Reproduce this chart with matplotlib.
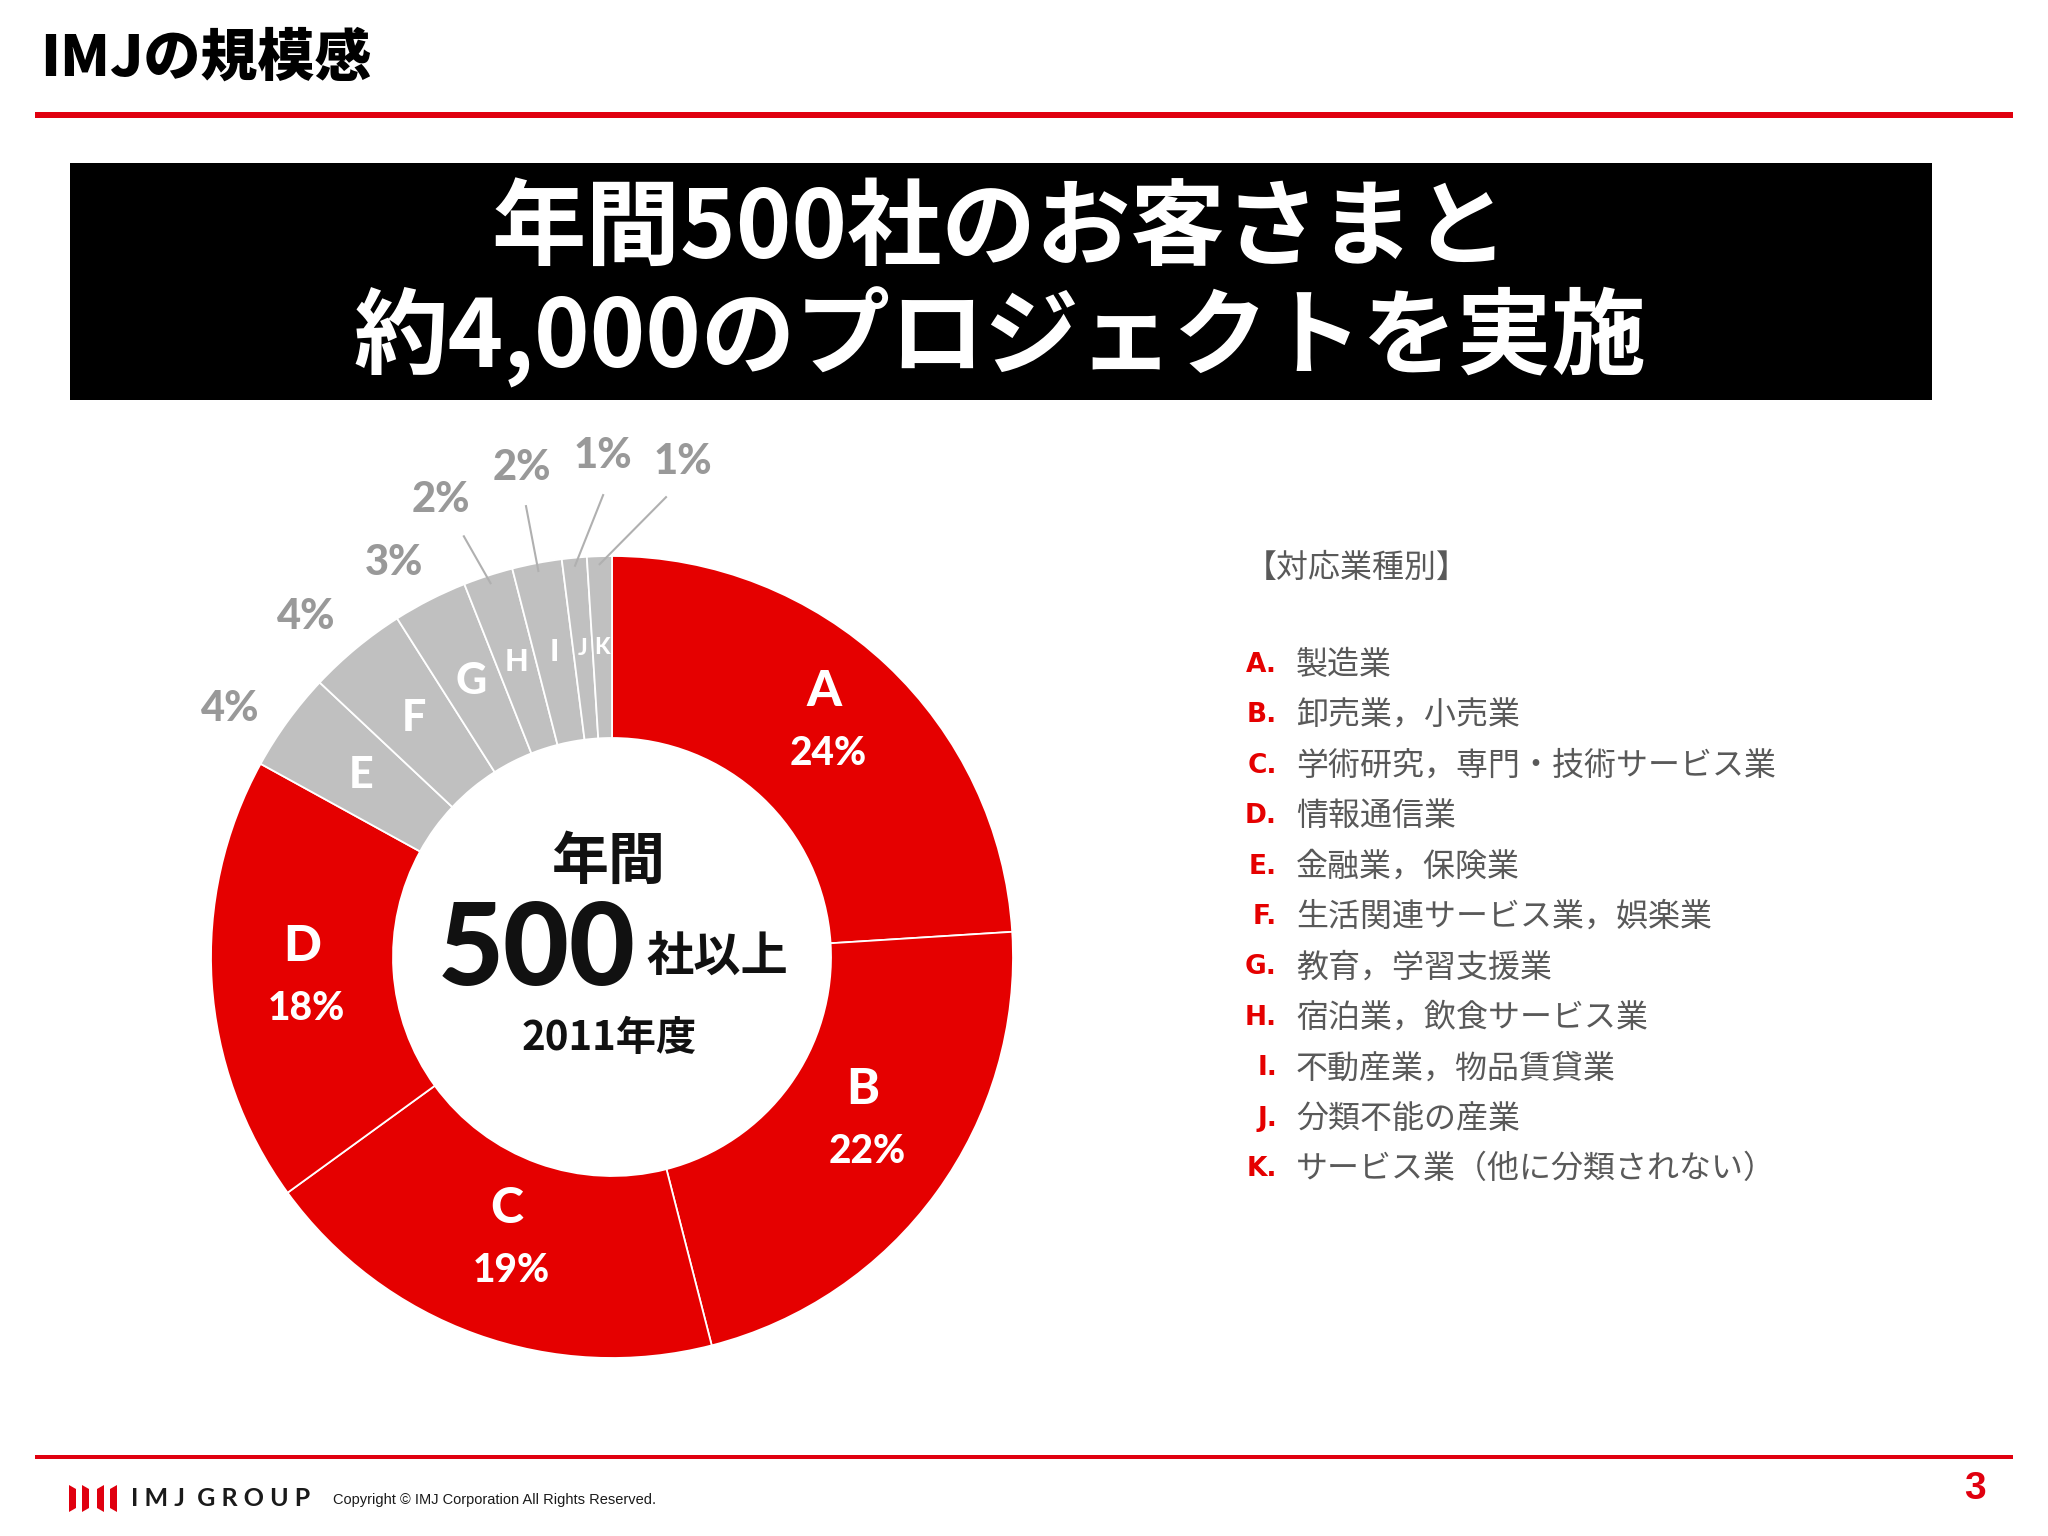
import numpy as np
import matplotlib
matplotlib.use('Agg')
import matplotlib.pyplot as plt
from matplotlib.patches import Rectangle, Polygon

# data
letters = ['A', 'B', 'C', 'D', 'E', 'F', 'G', 'H', 'I', 'J', 'K']
shares = [24, 22, 19, 18, 4, 4, 3, 2, 2, 1, 1]
industries = [
    '製造業',
    '卸売業，小売業',
    '学術研究，専門・技術サービス業',
    '情報通信業',
    '金融業，保険業',
    '生活関連サービス業，娯楽業',
    '教育，学習支援業',
    '宿泊業，飲食サービス業',
    '不動産業，物品賃貸業',
    '分類不能の産業',
    'サービス業（他に分類されない）',
]
n_companies = 500
fiscal_year = 2011
n_projects = '4,000'

JP = ['Noto Sans CJK JP', 'DejaVu Sans']
LAT = ['Lato', 'DejaVu Sans']
RED = '#e50000'
GRAY = '#c0c0c0'
H = 1536

fig = plt.figure(figsize=(20.48, 15.36), dpi=100)
ax = fig.add_axes([0, 0, 1, 1])


def T(x, y, s, **kw):
    # place text using image-style coordinates (y down)
    return ax.text(x, H - y, s, **kw)


# donut geometry (pixels)
CX, CY = 612, 957
R_OUT, R_IN = 401, 219
colors = [RED] * 4 + [GRAY] * 7
ax.pie(shares, radius=R_OUT, center=(CX, H - CY), startangle=90,
       counterclock=False, colors=colors,
       wedgeprops=dict(width=R_OUT - R_IN, edgecolor='white', linewidth=1.3))
ax.set_xlim(0, 2048)
ax.set_ylim(0, H)
ax.set_aspect('auto')
ax.axis('off')

# wedge mid angles (degrees, math convention)
cum = np.cumsum([0] + shares[:-1])
mids = 90 - (cum + np.array(shares) / 2) * 3.6


def polar(r, ang):
    a = np.deg2rad(ang)
    return CX + r * np.cos(a), CY - r * np.sin(a)


# labels inside the red wedges
lift = [40, 50, 40, 30]
for i in range(4):
    x, y = polar(310, mids[i])
    T(x, y - lift[i], letters[i], color='white', fontsize=36, fontweight='black',
      family=LAT, ha='center', va='center')
    T(x + 4, y - lift[i] + 62, f'{shares[i]}%', color='white', fontsize=28,
      fontweight='black', family=LAT, ha='center', va='center')

# letters inside the gray wedges
gray_sizes = [31, 31, 31, 22, 22, 16, 16]
for k, i in enumerate(range(4, 11)):
    x, y = polar(310, mids[i])
    T(x, y, letters[i], color='white', fontsize=gray_sizes[k],
      fontweight='black', family=LAT, ha='center', va='center')

# outside percentage labels for the gray wedges (radius, angle)
out_pos = [(455, 147), (457, 132), (450, 119), (488, 110.5),
           (497, 100.4), (501, 91.1), (500, 81.8)]
lead_end = [None, None, None, (446, 109.4), (459, 100.8), (462, 91.1), (463, 83.3)]
for k, i in enumerate(range(4, 11)):
    r, a = out_pos[k]
    x, y = polar(r, a)
    T(x, y, f'{shares[i]}%', color='#999999', fontsize=30, fontweight='black',
      family=LAT, ha='center', va='center')
    if lead_end[k] is not None:
        x0, y0 = polar(R_OUT - 8, mids[i])
        x1, y1 = polar(*lead_end[k])
        ax.plot([x0, x1], [H - y0, H - y1], color='#b0b0b0', lw=1.5)

# centre text
T(609, 862, '年間', fontsize=41, fontweight='bold', family=JP,
  ha='center', va='center', color='#111111')
T(636, 952, str(n_companies), fontsize=82, fontweight='black', family=LAT,
  ha='right', va='center', color='#111111')
T(646, 957, '社以上', fontsize=34, fontweight='bold', family=JP,
  ha='left', va='center', color='#111111')
T(609, 1038, f'{fiscal_year}年度', fontsize=29, fontweight='bold', family=JP,
  ha='center', va='center', color='#111111')

# page title and rules
T(40, 59, 'IMJの規模感', fontsize=41, fontweight=900, family=JP,
  ha='left', va='center', color='black')
ax.add_patch(Rectangle((35, H - 118), 1978, 6, color='#e0000f', lw=0))
ax.add_patch(Rectangle((35, H - 1459), 1978, 4, color='#e0000f', lw=0))

# black banner
ax.add_patch(Rectangle((70, H - 400), 1862, 237, color='black', lw=0))
T(1000, 230, f'年間{n_companies}社のお客さまと', fontsize=68, fontweight='bold',
  family=JP, ha='center', va='center', color='white')
T(1000, 337, f'約{n_projects}のプロジェクトを実施', fontsize=68,
  fontweight='bold', family=JP, ha='center', va='center', color='white')

# legend of industries
T(1245, 568, '【対応業種別】', fontsize=23, family=JP, ha='left', va='center',
  color='#595959')
for i, (let, name) in enumerate(zip(letters, industries)):
    y = 665 + i * 50.4
    T(1277, y, f'{let}.', fontsize=19, fontweight='bold', family=['DejaVu Sans'],
      ha='right', va='center', color=RED)
    T(1296, y, name, fontsize=23, family=JP, ha='left', va='center',
      color='#595959')

# footer
for j, (x0, d) in enumerate([(69, 1), (82, 1), (97, -1), (110, -1)]):
    w = 7
    top, bot = H - 1485, H - 1512
    pts = [(x0, top), (x0 + w, top - 4), (x0 + w, bot + 4), (x0, bot)] if d > 0 \
        else [(x0, top - 4), (x0 + w, top), (x0 + w, bot), (x0, bot + 4)]
    ax.add_patch(Polygon(pts, closed=True, color='#e0000f', lw=0))
T(131, 1498, 'I M J  G R O U P', fontsize=18, fontweight='bold', family=LAT,
  ha='left', va='center', color='#1a1a1a')
T(333, 1500, 'Copyright © IMJ Corporation All Rights Reserved.', fontsize=10.5,
  family=['Liberation Sans'], ha='left', va='center', color='#1a1a1a')
T(1975, 1489, '3', fontsize=28, fontweight='bold', family=['Liberation Sans'],
  ha='center', va='center', color='#e0000f')

fig.savefig('out.png', dpi=100, facecolor='white')
